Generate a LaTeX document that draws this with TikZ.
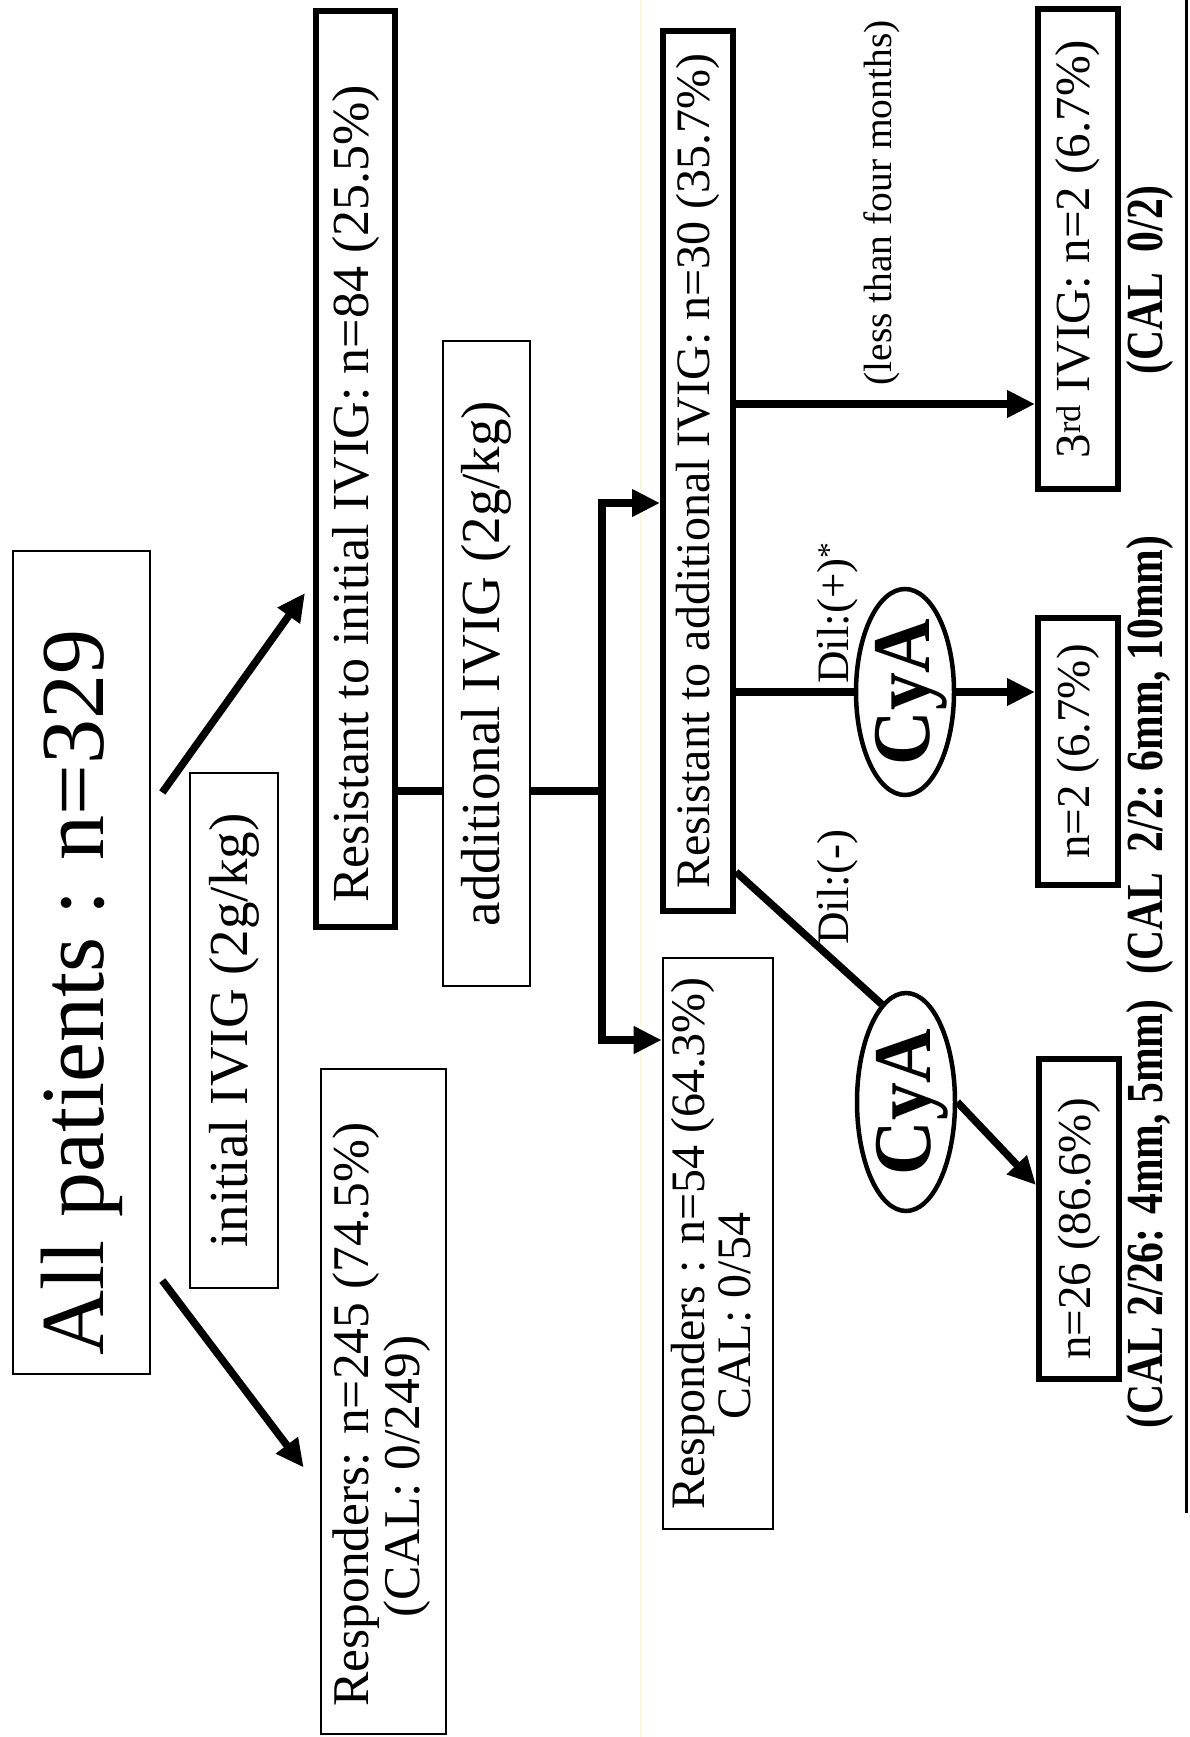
\documentclass[tikz,border=0pt]{standalone}
\usepackage{fontspec}
\setmainfont{Liberation Serif}
\usetikzlibrary{arrows.meta,shapes.geometric,calc}
\newcommand{\fsz}[2]{\fontsize{#1}{#2}\selectfont}
\newcommand{\boldcond}[1]{\scalebox{0.8}[1]{\bfseries #1}}
\begin{document}
\begin{tikzpicture}[x=1pt,y=-1pt,
  thickbox/.style={draw, rectangle, line width=6pt, inner sep=0pt},
  thinbox/.style={draw, rectangle, line width=2.6pt, inner sep=0pt},
  cyabox/.style={draw, ellipse, line width=4.5pt, inner sep=0pt, minimum width=98pt},
  conn/.style={line width=7.5pt},
  arr/.style={line width=7.5pt, -{Triangle[length=28pt,width=26pt]}},
  lbl/.style={inner sep=0pt},
]
\useasboundingbox (0,0) rectangle (1189,1737);
\fill[white] (0,0) rectangle (1189,1737);
% scan edge lines
\draw[line width=1.5pt, color={rgb,255:red,250;green,250;blue,215}] (641,0) -- (641,1737);
\draw[line width=3pt] (1186,0) -- (1186,1513);

% boxes
\node[thinbox, minimum width=137pt, minimum height=823pt] (A) at (81.5,962.5)
  {\rotatebox{90}{\fsz{90}{90}All patients : n=329\hspace*{60pt}}};
\node[thickbox, minimum width=79pt, minimum height=916pt] (B) at (355.5,469)
  {\rotatebox{90}{\fsz{52}{52}Resistant to initial IVIG: n=84 (25.5\%)\hspace*{50pt}}};
\node[thinbox, minimum width=88pt, minimum height=515pt] (C) at (234,1030.5)
  {\rotatebox{90}{\fsz{55}{55}initial IVIG (2g/kg)}};
\node[thinbox, minimum width=125pt, minimum height=665pt] (D) at (383.5,1401.5)
  {\rotatebox{90}{\fsz{51.5}{49}\begin{tabular}{@{}l@{}}Responders: n=245 (74.5\%)\hspace*{26pt}\\\hspace*{89pt}(CAL: 0/249)\end{tabular}}};
\node[thinbox, minimum width=87pt, minimum height=645pt] (E) at (486.5,663.5)
  {\rotatebox{90}{\fsz{55}{55}additional IVIG (2g/kg)}};
\node[thickbox, minimum width=70pt, minimum height=880pt] (F) at (698,471)
  {\rotatebox{90}{\fsz{48}{48}Resistant to additional IVIG: n=30 (35.7\%)}};
\node[thinbox, minimum width=110pt, minimum height=571pt] (G) at (718,1243.5)
  {\rotatebox{90}{\fsz{48}{46}\begin{tabular}{@{}l@{}}Responders : n=54 (64.3\%)\\\hspace*{90pt}CAL: 0/54\end{tabular}}};
\node[thickbox, minimum width=80pt, minimum height=480pt] (H) at (1078,249)
  {\rotatebox{90}{\fsz{49}{49}3\textsuperscript{rd} IVIG: n=2 (6.7\%)}};
\node[thickbox, minimum width=80pt, minimum height=267pt] (I) at (1078,751.5)
  {\rotatebox{90}{\fsz{47}{47}n=2 (6.7\%)}};
\node[thickbox, minimum width=80pt, minimum height=320pt] (J) at (1079,1219)
  {\rotatebox{90}{\fsz{47}{47}n=26 (86.6\%)\hspace*{20pt}}};

% CyA ellipses
\node[cyabox, minimum height=206pt] (cy1) at (905,692)
  {\rotatebox{90}{\fsz{82}{82}\bfseries\makebox[0pt]{\raisebox{-0.3em}[0pt][0pt]{\scalebox{0.92}[1]{CyA}}}}};
\node[cyabox, minimum height=218pt] (cy2) at (906,1102)
  {\rotatebox{90}{\fsz{82}{82}\bfseries\makebox[0pt]{\raisebox{-0.3em}[0pt][0pt]{\scalebox{0.92}[1]{CyA}}}}};

% labels
\node[lbl, anchor=south east] (dp) at (858,684) {\rotatebox{90}{\fsz{45}{45}Dil:(+)\textsuperscript{*}}};
\node[lbl, anchor=south east] (dm) at (858,945) {\rotatebox{90}{\fsz{45}{45}Dil:(-)}};
\node[lbl] (less) at (882,203) {\rotatebox{90}{\fsz{39.5}{39.5}(less than four months)}};
\node[lbl] (cal3) at (1150,280) {\rotatebox{90}{\fsz{52}{52}\boldcond{(CAL\hspace{0.5em}0/2)}}};
\node[lbl] (cal2) at (1150,755) {\rotatebox{90}{\fsz{52}{52}\boldcond{(CAL\hspace{0.5em}2/2: 6mm, 10mm)}}};
\node[lbl] (cal1) at (1150,1214) {\rotatebox{90}{\fsz{52}{52}\boldcond{(CAL 2/26: 4mm, 5mm)}}};

% connectors
\coordinate (lvl) at (0,791);
\coordinate (br) at (602,791);
\coordinate (fy) at (0,503);
\coordinate (gy) at (0,1040);
\coordinate (hy) at (0,404);
\draw[arr] ($(A.east)+(11,-170)$) -- ($(B.west)+(-8,124)$);
\draw[arr] ($(A.east)+(11,318)$) -- ($(D.west)+(-16,66)$);
\draw[conn] (B.east |- lvl) -- (E.west |- lvl);
\draw[conn] (E.east |- lvl) -- (br);
\draw[line width=7.5pt, {Triangle[length=28pt,width=26pt]}-{Triangle[length=28pt,width=26pt]}]
  (F.west |- fy) -| (br) |- (G.west |- gy);
\draw[arr] (F.east |- hy) -- (H.west |- hy);
\draw[conn] (F.east |- cy1) -- (cy1.west);
\draw[arr] (cy1.east) -- (cy1.east -| I.west);
\draw[conn] ($(F.east)+(0,401)$) -- (cy2.104);
\draw[arr] (cy2.east) -- ($(J.west)+(0,-34)$);
\end{tikzpicture}
\end{document}
